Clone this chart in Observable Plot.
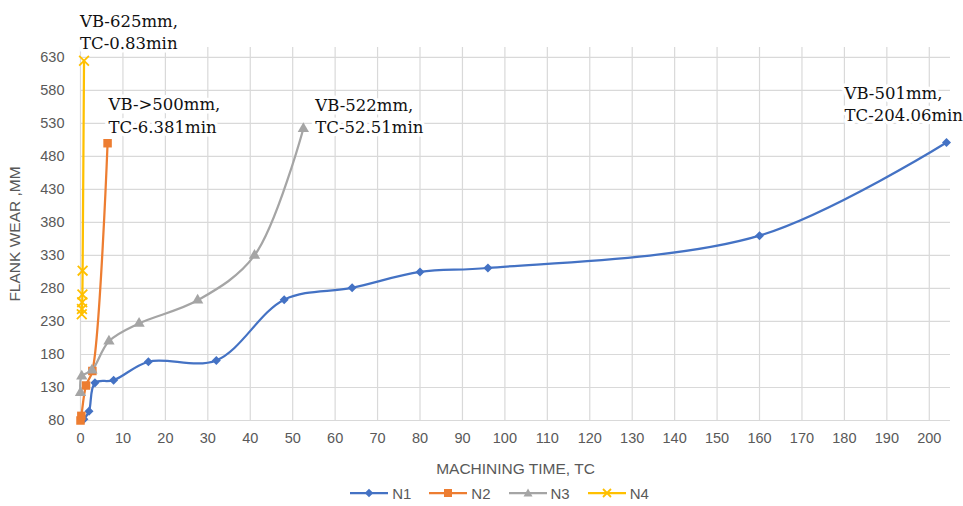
<!DOCTYPE html>
<html>
<head>
<meta charset="utf-8">
<script src="https://cdn.jsdelivr.net/npm/d3@7"></script>
<script src="https://cdn.jsdelivr.net/npm/@observablehq/plot@0.6"></script>
<style>
  html, body { margin: 0; padding: 0; background: #fff; }
  #chart { width: 963px; }
  .legend { display: flex; justify-content: center; align-items: center; height: 26px;
    font-family: "Liberation Sans", Arial, sans-serif; font-size: 15px; color: #595959; gap: 18px; padding-left: 36px; }
  .legend .item { display: flex; align-items: center; gap: 4px; }
</style>
</head>
<body>
<div id="chart"></div>
<script>
// ---- data ----
const seriesNames = ["N1", "N2", "N3", "N4"];
const seriesColors = ["#4472C4", "#ED7D31", "#A5A5A5", "#FFC000"];

const n1Time = [0.8, 2, 3.4, 7.8, 16, 32, 48, 64, 80, 96, 160, 204.06];
const n1Wear = [82, 94, 137, 141, 169, 171, 263, 281, 305, 311, 360, 501];

const n2Time = [0, 0.2, 1.3, 2.8, 6.381];
const n2Wear = [80, 87, 133, 155, 500];

const n3Time = [0, 0.3, 2.7, 6.7, 13.8, 27.6, 41, 52.51];
const n3Wear = [122, 147, 156, 200, 227, 262, 330, 522];

const n4Time = [0.3, 0.35, 0.4, 0.45, 0.5, 0.83];
const n4Wear = [241, 249, 259, 271, 307, 625];

const xTicks = d3.range(0, 201, 10);
const yTicks = d3.range(80, 631, 50);

const annotationTexts = ["VB-501mm,\nTC-204.06min", "VB->500mm,\nTC-6.381min", "VB-522mm,\nTC-52.51min", "VB-625mm,\nTC-0.83min"];

// ---- build ----
const allTimes = [n1Time, n2Time, n3Time, n4Time];
const allWear = [n1Wear, n2Wear, n3Wear, n4Wear];
const rows = seriesNames.flatMap((s, i) => allTimes[i].map((t, j) => ({series: s, time: t, wear: allWear[i][j]})));
const bySeries = s => rows.filter(d => d.series === s);
const lastOf = s => { const r = bySeries(s); return r[r.length - 1]; };

// label offsets (pixels) relative to each series' final point
const annOffsets = {N1: [-102, -40], N2: [1, -29], N3: [12, -14], N4: [-4, -30]};
const annMarks = seriesNames.map((s, i) => Plot.text([lastOf(s)], {
  x: "time", y: "wear", text: () => annotationTexts[i],
  dx: annOffsets[s][0], dy: annOffsets[s][1],
  textAnchor: "start", lineAnchor: "middle", lineHeight: 1.36,
  fontFamily: "DejaVu Serif", fontSize: 16.5, fill: "#111",
  stroke: "white", strokeWidth: 7
}));

const chart = Plot.plot({
  width: 963,
  height: 480,
  marginTop: 47,
  marginBottom: 60,
  marginLeft: 80,
  marginRight: 13,
  style: {fontFamily: "Liberation Sans, Arial, sans-serif", fontSize: "14.5px", color: "#595959", background: "#fff"},
  x: {domain: [0, 205], ticks: xTicks, tickSize: 0, tickPadding: 12, label: "MACHINING TIME, TC", labelAnchor: "center", labelArrow: "none", labelOffset: 53},
  y: {domain: [80, 645], ticks: yTicks, tickSize: 0, tickPadding: 16, label: "FLANK WEAR ,MM", labelAnchor: "center", labelArrow: "none", labelOffset: 72},
  color: {domain: seriesNames, range: seriesColors},
  marks: [
    Plot.gridX(xTicks, {stroke: "#d9d9d9", strokeOpacity: 1, strokeWidth: 1.2}),
    Plot.gridY(yTicks, {stroke: "#d9d9d9", strokeOpacity: 1, strokeWidth: 1.2}),
    ...annMarks,
    Plot.line(rows, {x: "time", y: "wear", z: "series", stroke: "series", curve: "catmull-rom", strokeWidth: 2.25}),
    Plot.dot(bySeries("N1"), {x: "time", y: "wear", symbol: "square", r: 3.6, rotate: 45, fill: seriesColors[0]}),
    Plot.dot(bySeries("N2"), {x: "time", y: "wear", symbol: "square", r: 4.8, fill: seriesColors[1]}),
    Plot.dot(bySeries("N3"), {x: "time", y: "wear", symbol: "triangle", r: 4.2, fill: seriesColors[2]}),
    Plot.dot(bySeries("N4"), {x: "time", y: "wear", symbol: "times", r: 4.5, stroke: seriesColors[3], strokeWidth: 1.8})
  ]
});
// make axis titles slightly larger, like the reference
chart.querySelectorAll("g[aria-label='x-axis label'] text, g[aria-label='y-axis label'] text").forEach(t => t.setAttribute("font-size", "15.5"));
document.getElementById("chart").appendChild(chart);

// ---- legend ----
const legend = document.createElement("div");
legend.className = "legend";
const legendSymbols = [
  c => `<rect x="16" y="3" width="6" height="6" transform="rotate(45 19 6)" fill="${c}"/>`,
  c => `<rect x="15" y="2" width="8" height="8" fill="${c}"/>`,
  c => `<path d="M19,1.5 L23.5,9.5 L14.5,9.5 Z" fill="${c}"/>`,
  c => `<path d="M15,2 L23,10 M23,2 L15,10" stroke="${c}" stroke-width="1.8"/>`
];
seriesNames.forEach((s, i) => {
  const c = seriesColors[i];
  const item = document.createElement("div");
  item.className = "item";
  item.innerHTML = `<svg width="38" height="12"><line x1="0" x2="38" y1="6" y2="6" stroke="${c}" stroke-width="2.25"/>${legendSymbols[i](c)}</svg><span>${s}</span>`;
  legend.appendChild(item);
});
document.getElementById("chart").appendChild(legend);
</script>
</body>
</html>
